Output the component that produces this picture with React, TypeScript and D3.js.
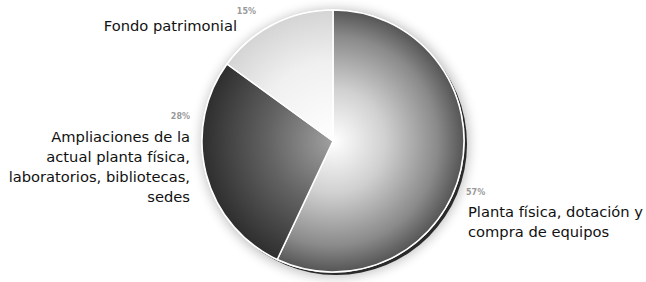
import React from "react";
import * as d3 from "d3";

const categories = [
  "Planta física, dotación y compra de equipos",
  "Ampliaciones de la actual planta física, laboratorios, bibliotecas, sedes",
  "Fondo patrimonial",
];
const values = [57, 28, 15];
const percentLabels = ["57%", "28%", "15%"];
const labelLines = [
  ["Planta física, dotación y", "compra de equipos"],
  ["Ampliaciones de la", "actual planta física,", "laboratorios, bibliotecas,", "sedes"],
  ["Fondo patrimonial"],
];

const W = 646, H = 282;
const cx = 333, cy = 141, R = 131;

const gradStops = [
  [["0", "#ffffff"], ["0.4", "#d0d0d0"], ["0.8", "#8a8a8a"], ["1", "#555555"]],
  [["0", "#a0a0a0"], ["0.5", "#626262"], ["1", "#2e2e2e"]],
  [["0", "#ffffff"], ["0.6", "#f0f0f0"], ["1", "#d4d4d4"]],
];

const labelPos = [
  { x: 468, y: 217, anchor: "start", px: 466, py: 195 },
  { x: 190, y: 142, anchor: "end", px: 190, py: 119 },
  { x: 237, y: 31, anchor: "end", px: 256, py: 14 },
];

export default function App() {
  const pie = d3.pie<number>().sort(null).value((d) => d)(values);
  const arc = d3.arc<d3.PieArcDatum<number>>().innerRadius(0).outerRadius(R);
  const font = "'DejaVu Sans', Verdana, sans-serif";
  return (
    <svg width={W} height={H} style={{ position: "absolute", left: 0, top: 0 }}>
      <defs>
        <filter id="blur" x="-30%" y="-30%" width="160%" height="160%">
          <feGaussianBlur stdDeviation="6" />
        </filter>
        {gradStops.map((stops, i) => (
          <radialGradient key={i} id={`g${i}`} gradientUnits="userSpaceOnUse" cx={0} cy={0} r={R}>
            {stops.map(([o, c], j) => (
              <stop key={j} offset={o} stopColor={c} />
            ))}
          </radialGradient>
        ))}
      </defs>
      <rect width={W} height={H} fill="#fff" />
      <circle cx={cx + 2} cy={cy + 2} r={R + 3} fill="#000" opacity={0.25} filter="url(#blur)" />
      <circle cx={cx + 3} cy={cy + 3} r={R} fill="#2a2a2a" />
      <circle cx={cx} cy={cy} r={R + 0.8} fill="#fff" />
      <g transform={`translate(${cx},${cy})`}>
        {pie.map((p, i) => (
          <path key={i} d={arc(p) || ""} fill={`url(#g${i})`} stroke="#fff" strokeWidth={1.5} />
        ))}
      </g>
      {pie.map((p, i) => (
        <text key={`p${i}`} x={labelPos[i].px} y={labelPos[i].py} fontSize={8} fontWeight="bold"
          fill="#999" fontFamily={font} textAnchor={labelPos[i].anchor as any}>
          {percentLabels[i]}
        </text>
      ))}
      {labelLines.map((lines, i) => (
        <text key={`l${i}`} fontSize={14.7} fill="#111" fontFamily={font} textAnchor={labelPos[i].anchor as any}>
          {lines.map((t, j) => (
            <tspan key={j} x={labelPos[i].x} y={labelPos[i].y + j * 20}>{t}</tspan>
          ))}
        </text>
      ))}
    </svg>
  );
}
